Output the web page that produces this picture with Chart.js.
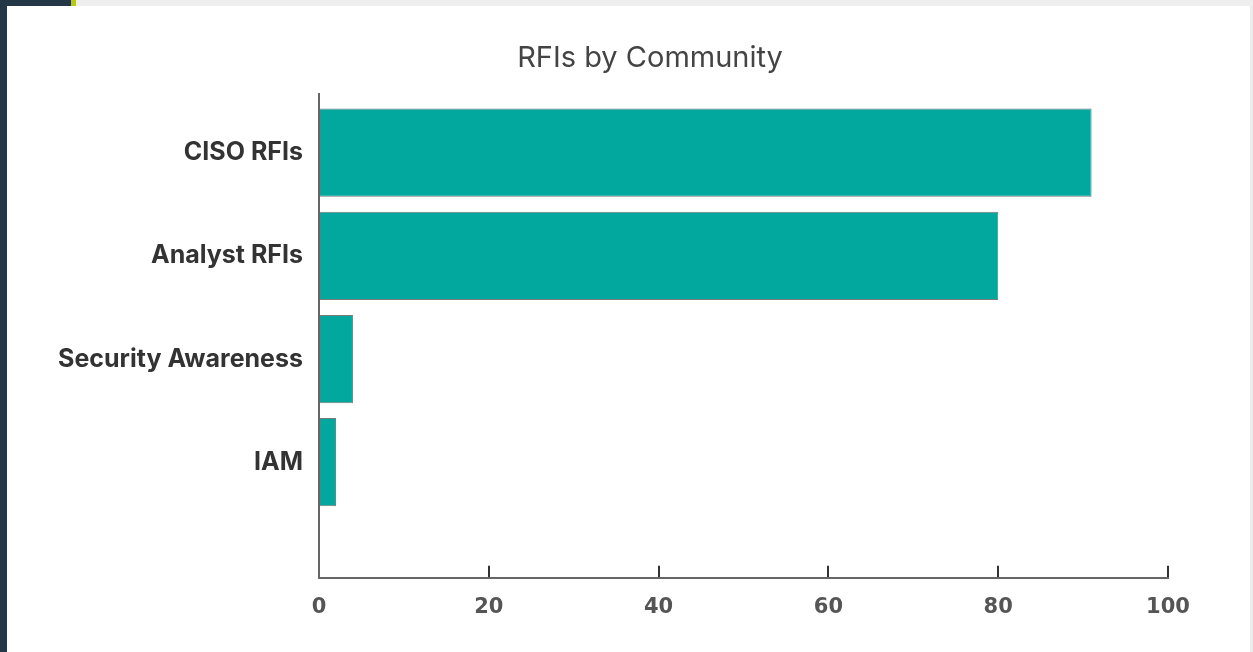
<!DOCTYPE html>
<html>
<head>
<meta charset="utf-8">
<script src="https://cdn.jsdelivr.net/npm/chart.js@4"></script>
<style>
  html, body { margin: 0; padding: 0; }
  body { width: 1253px; height: 652px; background: #243746; position: relative; overflow: hidden; }
  #topband { position: absolute; left: 76px; top: 0; width: 1177px; height: 6px; background: #eeeeee; }
  #accent { position: absolute; left: 71px; top: 0; width: 5px; height: 6px; background: #b8c818; }
  #card { position: absolute; left: 7px; top: 6px; width: 1243px; height: 646px; background: #ffffff; }
  #edge { position: absolute; left: 1250px; top: 6px; width: 3px; height: 646px; background: #ececec; }
  #chart { position: absolute; left: 0; top: 0; }
</style>
</head>
<body>
<div id="topband"></div>
<div id="accent"></div>
<div id="card"></div>
<div id="edge"></div>
<canvas id="chart" width="1253" height="652"></canvas>
<script>
//----- DATA -----//
const categories = ['CISO RFIs', 'Analyst RFIs', 'Security Awareness', 'IAM'];
const rfiCounts = [91, 80, 4, 2];
const xTicks = [0, 20, 40, 60, 80, 100];

const data = {
    datasets: [{
        label: 'RFIs',
        data: categories.map((c, i) => ({ x: rfiCounts[i], y: i })),
        backgroundColor: '#02a89e',
        borderColor: '#7a7a7a',
        borderWidth: 1,
        categoryPercentage: 1,
        barPercentage: 0.855
    }]
};

// the title is centred a bit left of the plot, so widen its box on the left
const titleShift = {
    id: 'titleShift',
    afterLayout(chart) {
        if (chart.titleBlock) chart.titleBlock.left = 132;
    }
};

//----- CONFIG -----//
const config = {
    type: 'bar',
    data: data,
    plugins: [titleShift],
    options: {
        indexAxis: 'y',
        responsive: false,
        animation: false,
        layout: {
            padding: { top: 0, left: 30, right: 85, bottom: 3 }
        },
        plugins: {
            legend: { display: false },
            tooltip: { enabled: false },
            title: {
                display: true,
                text: 'RFIs by Community',
                color: '#444444',
                font: { family: 'Inter', size: 29, weight: 'normal' },
                padding: { top: 41, bottom: 18 }
            }
        },
        scales: {
            y: {
                type: 'linear',
                reverse: true,
                offset: false,
                min: -0.57,
                max: 4.12,
                afterBuildTicks: (scale) => {
                    scale.ticks = categories.map((c, i) => ({ value: i }));
                },
                afterFit: (scale) => {
                    scale.width = 289;
                },
                grid: { display: false, drawTicks: false, offset: false },
                border: { display: true, color: '#666666', width: 2 },
                ticks: {
                    padding: 16,
                    color: '#333333',
                    font: { family: 'Inter', size: 25, weight: 'bold' },
                    callback: (v) => categories[v] ?? ''
                }
            },
            x: {
                type: 'linear',
                min: xTicks[0],
                max: xTicks[xTicks.length - 1],
                afterBuildTicks: (scale) => {
                    scale.ticks = xTicks.map(v => ({ value: v }));
                },
                grid: {
                    drawOnChartArea: false,
                    drawTicks: true,
                    tickLength: -12,
                    tickColor: '#333333',
                    lineWidth: 2
                },
                border: { display: true, color: '#666666', width: 2 },
                ticks: {
                    padding: 29,
                    color: '#555555',
                    font: { family: 'DejaVu Sans', size: 21, weight: 'bold' }
                }
            }
        }
    }
};

//----- RENDER -----//
const rfiChart = new Chart(document.getElementById('chart'), config);
</script>
</body>
</html>
